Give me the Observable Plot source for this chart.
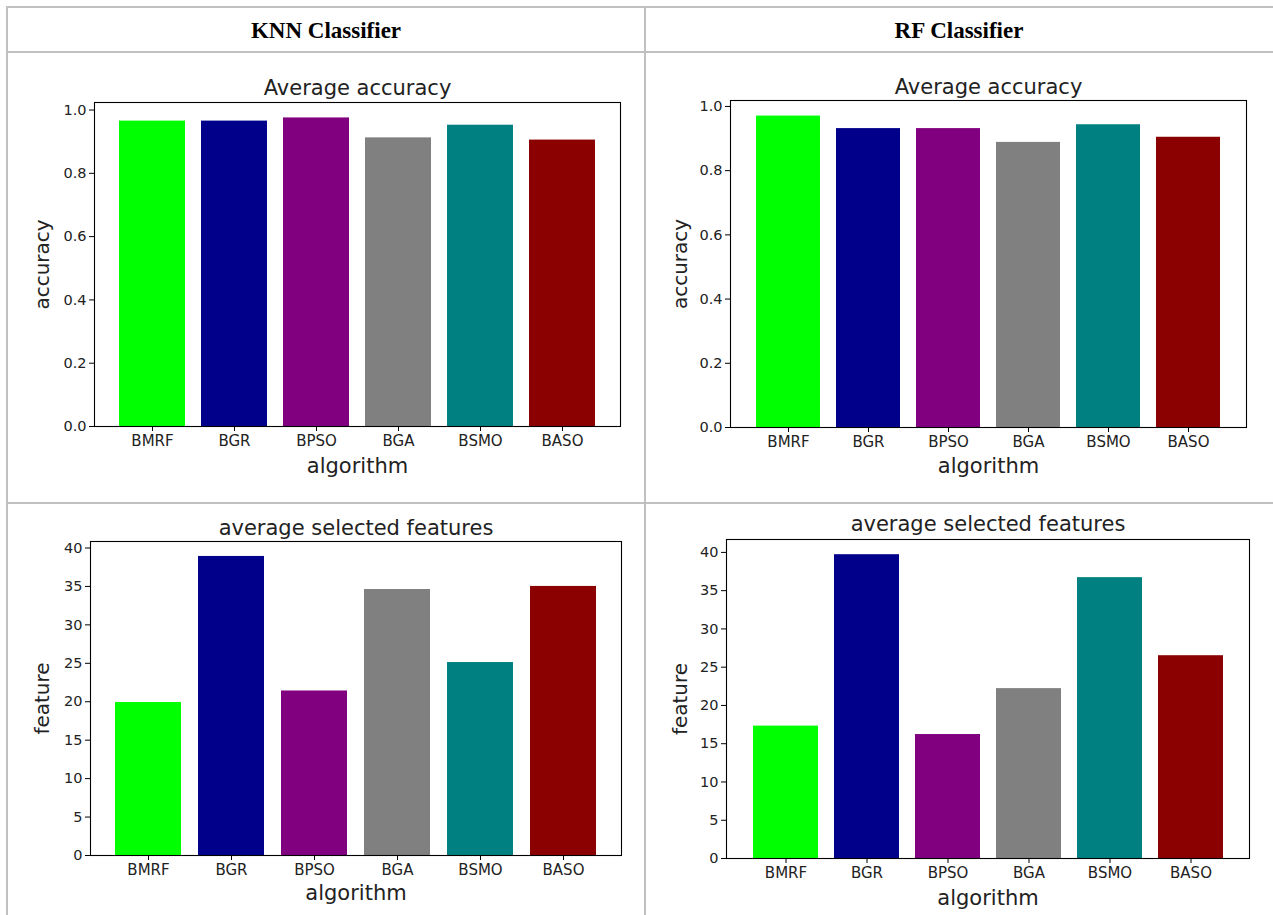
<!DOCTYPE html>
<html><head><meta charset="utf-8">
<script src="https://cdn.jsdelivr.net/npm/d3@7"></script>
<script src="https://cdn.jsdelivr.net/npm/@observablehq/plot@0.6"></script>
<style>
body{margin:0;background:#fff;}
#root{position:relative;width:1273px;height:915px;overflow:hidden;background:#fff;}
.line{position:absolute;background:#c0c0c0;}
.hdr{position:absolute;font-family:"Liberation Serif";font-weight:bold;font-size:23px;text-align:center;line-height:1;}
.chart{position:absolute;}
</style></head><body>
<div id="root"></div>
<script>
const algorithms = ["BMRF","BGR","BPSO","BGA","BSMO","BASO"];
const colors = ["#00ff00","#00008b","#800080","#808080","#008080","#8b0000"];
const knnAccuracy = [0.965,0.965,0.975,0.912,0.952,0.905];
const rfAccuracy = [0.970,0.931,0.931,0.888,0.943,0.904];
const knnFeatures = [19.9,38.9,21.4,34.6,25.1,35.0];
const rfFeatures = [17.3,39.7,16.2,22.2,36.7,26.5];
const accuracyTicks = [0,0.2,0.4,0.6,0.8,1.0];
const featureTicks = [0,5,10,15,20,25,30,35,40];
const headers = ["KNN Classifier","RF Classifier"];

const root = document.getElementById("root");
function line(l,t,w,h){const d=document.createElement("div");d.className="line";Object.assign(d.style,{left:l+"px",top:t+"px",width:w+"px",height:h+"px"});root.appendChild(d);}
line(6,6,1267,2); line(6,51,1267,2); line(6,502,1267,2);
line(6,6,2,909); line(644,6,2,909);
function hdr(text,cx){const d=document.createElement("div");d.className="hdr";d.textContent=text;Object.assign(d.style,{left:(cx-200)+"px",top:"19px",width:"400px"});root.appendChild(d);}
hdr(headers[0],326); hdr(headers[1],959);

function chart({values, ticks, fmt, title, ylabel, f, titleDy, ylabelDx, xlabelDy}) {
  const ml=110, mt=45, mr=20, mb=60;
  const data = algorithms.map((a,i)=>({alg:a, v:values[i], color:colors[i]}));
  const ymax = d3.max(values)*1.05;
  const p = Plot.plot({
    width: (f.r-f.l)+ml+mr, height: (f.b-f.t)+mt+mb,
    marginLeft: ml, marginRight: mr, marginTop: mt, marginBottom: mb,
    style: {fontFamily: "DejaVu Sans", fontSize: "14px", color: "#000", background: "transparent", overflow: "visible"},
    x: {domain: algorithms, paddingInner: 0.2, paddingOuter: 0.29, align: 0.5, label: null, axis: null},
    y: {domain: [0, ymax], label: null, axis: null},
    marks: [
      Plot.barY(data, {x: "alg", y: "v", fill: "color"}),
      Plot.frame({stroke: "#000", strokeWidth: 1.1}),
      Plot.axisX({tickSize: 5, tickPadding: 4, label: null, fontSize: 15, fill: "#222"}),
      Plot.axisY({ticks: ticks, tickFormat: fmt, tickSize: 5, tickPadding: 3, label: null, fontSize: 14.5, fill: "#222"}),
      Plot.text([title], {text: d=>d, frameAnchor: "top", dy: titleDy, textAnchor: "middle", lineAnchor: "middle", fontSize: 21, fill: "#222"}),
      Plot.text(["algorithm"], {text: d=>d, frameAnchor: "bottom", dy: xlabelDy, textAnchor: "middle", lineAnchor: "middle", fontSize: 21, fill: "#222"}),
      Plot.text([ylabel], {text: d=>d, frameAnchor: "left", dx: ylabelDx, rotate: -90, textAnchor: "middle", lineAnchor: "middle", fontSize: 20, fill: "#222"})
    ]
  });
  p.classList.add("chart");
  p.style.left = (f.l-ml)+"px"; p.style.top = (f.t-mt)+"px";
  root.appendChild(p);
}
const fmt1 = d3.format(".1f");
const fmt0 = d3.format("d");
chart({values: knnAccuracy, ticks: accuracyTicks, fmt: fmt1, title: "Average accuracy", ylabel: "accuracy", f: {l:94,r:620,t:102,b:426}, titleDy: -14, ylabelDx: -52, xlabelDy: 40});
chart({values: rfAccuracy, ticks: accuracyTicks, fmt: fmt1, title: "Average accuracy", ylabel: "accuracy", f: {l:730,r:1246,t:100,b:427}, titleDy: -13, ylabelDx: -50, xlabelDy: 39});
chart({values: knnFeatures, ticks: featureTicks, fmt: fmt0, title: "average selected features", ylabel: "feature", f: {l:90,r:621,t:541,b:855}, titleDy: -13, ylabelDx: -48, xlabelDy: 38});
chart({values: rfFeatures, ticks: featureTicks, fmt: fmt0, title: "average selected features", ylabel: "feature", f: {l:726,r:1249,t:539,b:858}, titleDy: -15, ylabelDx: -46, xlabelDy: 40});
</script>
</body></html>
